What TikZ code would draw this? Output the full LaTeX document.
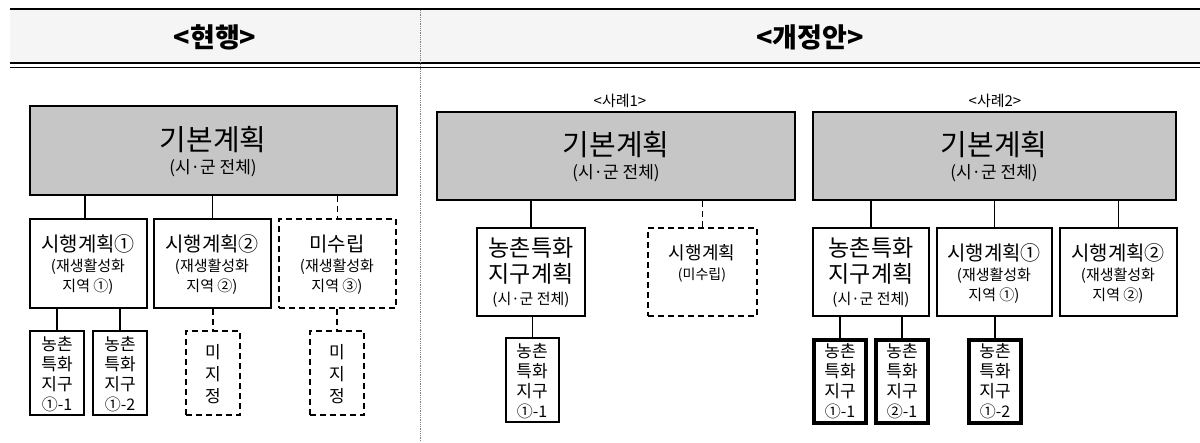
\documentclass[tikz,border=0pt]{standalone}
\usepackage{fontspec}
\setmainfont{Noto Sans CJK KR}
\begin{document}
\begin{tikzpicture}[x=1pt,y=-1pt,
  bx/.style={draw,line width=2pt,fill=white,inner sep=0pt},
  dbx/.style={bx,dash pattern=on 6pt off 4pt},
  thk/.style={bx,line width=3.4pt},
  ln/.style={line width=1.8pt},
  dln/.style={ln,dash pattern=on 6pt off 4pt},
  tx/.style={inner sep=0pt,font=\fontsize{#1}{#1}\selectfont}]
\useasboundingbox (0,0) rectangle (1200,442);
\fill[gray!8] (10,10) rectangle (1200,62);
\draw[line width=2.4pt] (10,9) -- (1200,9);
\draw[line width=1.2pt] (10,63) -- (1200,63);
\draw[line width=0.7pt] (10,67) -- (1200,67);
\draw[densely dotted,gray,line width=0.8pt] (420,10) -- (420,442);
\node[font=\bfseries\fontsize{27}{30}\selectfont] (h1) at (215,37) {<현행>};
\node[font=\bfseries\fontsize{27}{30}\selectfont] (h2) at (810,37) {<개정안>};
\newcommand\bxat[6]{\node[#1,minimum width=#4-#2,minimum height=#5-#3] (#6) at ({(#2+#4)/2},{(#3+#5)/2}) {};}
\newcommand\tl[4]{\node[tx=#3] at (#1,#2) {#4};}
\newcommand\basic[2]{\tl{#1}{#2-12}{29}{기본계획}\tl{#1}{#2+16}{17}{(시·군 전체)}}
\newcommand\exec[4]{\tl{#1}{#2-20}{20}{시행계획#3}\tl{#1}{#2+3}{15}{(재생활성화}\tl{#1}{#2+23}{15}{지역 #4)}}
\newcommand\rural[2]{\tl{#1}{#2-26}{23}{농촌특화}\tl{#1}{#2}{23}{지구계획}\tl{#1}{#2+26}{15}{(시·군 전체)}}
\newcommand\zone[3]{\tl{#1}{#2-30}{17}{농촌}\tl{#1}{#2-10}{17}{특화}\tl{#1}{#2+10}{17}{지구}\tl{#1}{#2+30}{16}{#3}}
\newcommand\none[2]{\tl{#1}{#2-22}{17}{미}\tl{#1}{#2}{17}{지}\tl{#1}{#2+22}{17}{정}}
% left
\bxat{bx,fill=gray!45}{30}{106}{397}{195}{L0}
\basic{213}{152}
\bxat{bx}{30}{219}{147}{308}{L1}
\bxat{bx}{154}{219}{271}{308}{L2}
\bxat{dbx}{279}{219}{396}{308}{L3}
\exec{88}{264}{①}{①}
\exec{212}{264}{②}{②}
\tl{337}{244}{20}{미수립}\tl{337}{267}{15}{(재생활성화}\tl{337}{287}{15}{지역 ③)}
\bxat{bx}{30}{331}{84}{415}{L11}
\bxat{bx}{93}{331}{147}{415}{L12}
\bxat{dbx}{186}{331}{240}{415}{L21}
\bxat{dbx}{310}{331}{364}{415}{L31}
\zone{57}{374}{①-1}
\zone{120}{374}{①-2}
\none{213}{374}
\none{337}{374}
\draw[ln] (L0.south -| L11.east) -- (L1.north -| L11.east);
\draw[ln] (L0.south -| L2) -- (L2.north);
\draw[dln] (L0.south -| L3) -- (L3.north);
\draw[ln] (L1.south -| L11) -- (L11.north);
\draw[ln] (L1.south -| L12) -- (L12.north);
\draw[dln] (L2.south -| L21) -- (L21.north);
\draw[dln] (L3.south -| L31) -- (L31.north);
% case 1
\node[tx=15] (c1) at (620,101) {<사례1>};
\bxat{bx,fill=gray!45}{437}{112}{795}{200}{A0}
\basic{616}{157}
\bxat{bx}{477}{228}{585}{316}{A1}
\bxat{dbx}{648}{228}{757}{316}{A2}
\rural{531}{274}
\tl{702}{253}{18}{시행계획}\tl{702}{275}{14}{(미수립)}
\bxat{bx}{506}{338}{559}{422}{A11}
\zone{532}{381}{①-1}
\draw[ln] (A0.south -| A1) -- (A1.north);
\draw[dln] (A0.south -| A2) -- (A2.north);
\draw[ln] (A1.south -| A11) -- (A11.north);
% case 2
\node[tx=15] (c2) at (995,101) {<사례2>};
\bxat{bx,fill=gray!45}{813}{112}{1176}{200}{B0}
\basic{994}{157}
\bxat{bx}{813}{228}{929}{316}{B1}
\bxat{bx}{937}{228}{1052}{316}{B2}
\bxat{bx}{1060}{228}{1177}{316}{B3}
\rural{871}{274}
\exec{994}{273}{①}{①}
\exec{1118}{273}{②}{②}
\bxat{thk}{814}{340}{866}{423}{B11}
\bxat{thk}{876}{340}{928}{423}{B12}
\bxat{thk}{969}{340}{1021}{423}{B21}
\zone{840}{381}{①-1}
\zone{902}{381}{②-1}
\zone{995}{381}{①-2}
\draw[ln] (B0.south -| B1) -- (B1.north);
\draw[ln] (B0.south -| B2) -- (B2.north);
\draw[ln] (B0.south -| B3) -- (B3.north);
\draw[ln] (B1.south -| B11) -- (B11.north);
\draw[ln] (B1.south -| B12) -- (B12.north);
\draw[ln] (B2.south -| B21) -- (B21.north);
\end{tikzpicture}
\end{document}
